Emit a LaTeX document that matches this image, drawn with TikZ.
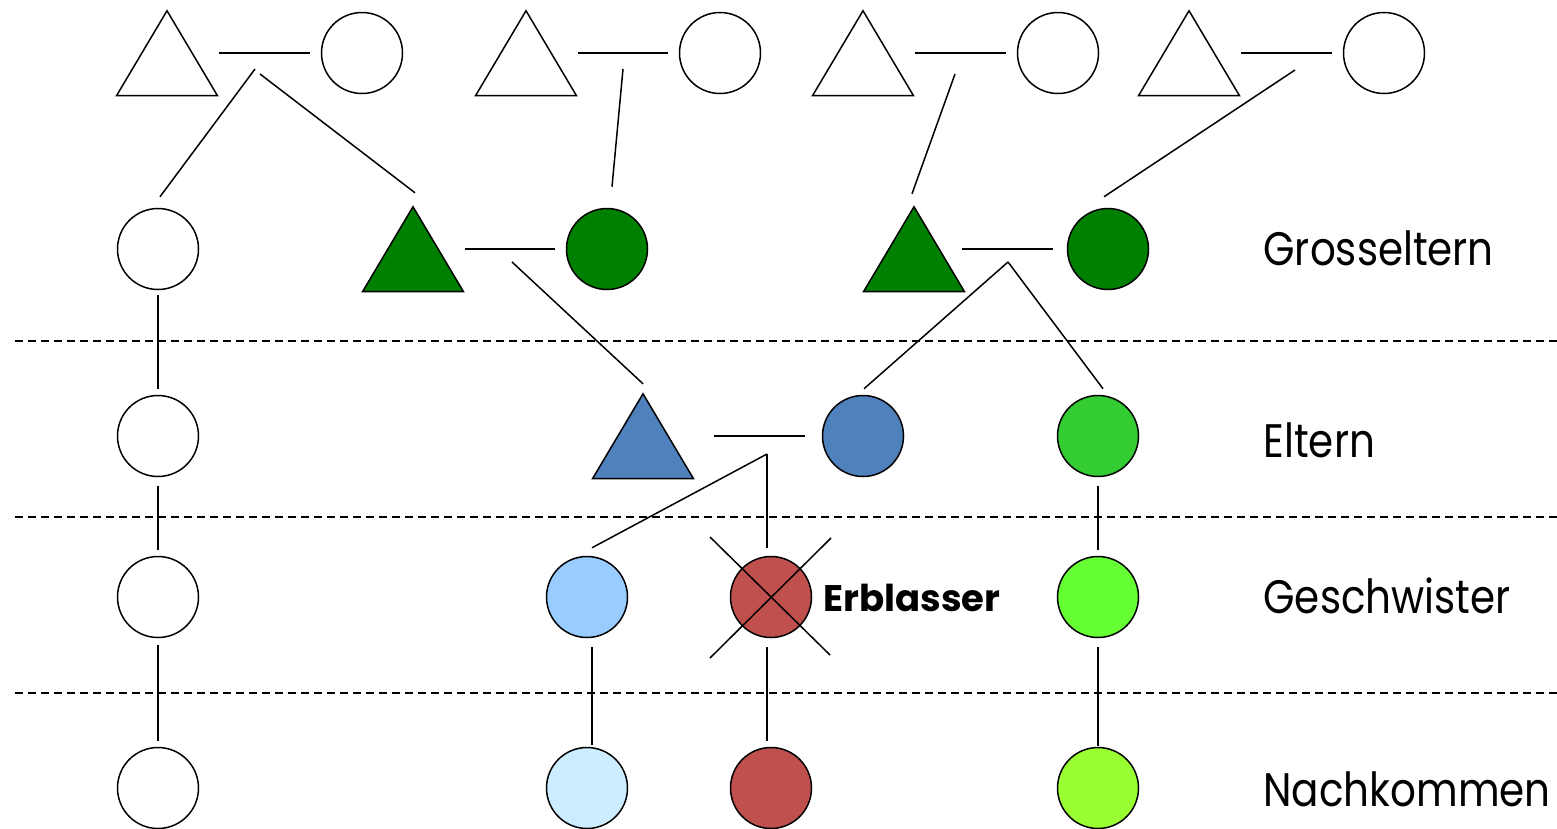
\documentclass[tikz,border=0pt]{standalone}
\usepackage{fontspec}
\setmainfont{Poppins}
\newfontfamily\stufenfont{Poppins}[FakeStretch=0.86]
\usetikzlibrary{shapes.geometric,calc}

\definecolor{dgruen}{HTML}{008000}
\definecolor{blau}{HTML}{4F81BD}
\definecolor{hgruen}{HTML}{33CC33}
\definecolor{hblau}{HTML}{99CCFF}
\definecolor{rot}{HTML}{C0504D}
\definecolor{pblau}{HTML}{CCECFF}
\definecolor{ngruen}{HTML}{66FF33}
\definecolor{ggruen}{HTML}{99FF33}

\tikzset{
  person/.style={draw=black, line width=1.5pt, inner sep=0pt},
  frau/.style={person, circle, minimum size=81pt},
  mann/.style={person, isosceles triangle, isosceles triangle stretches,
    shape border rotate=90, minimum width=101pt, minimum height=85pt,
    yshift=-14pt},
  linie/.style={line width=1.5pt},
  ehe/.style={linie, shorten <=52pt, shorten >=52pt},
  grenze/.style={line width=1.4pt, dash pattern=on 8pt off 5pt},
  stufe/.style={anchor=base west, font=\stufenfont\fontsize{47}{56}\selectfont},
}

\begin{document}
\begin{tikzpicture}[x=1pt,y=-1pt]
\useasboundingbox (0,0) rectangle (1557,828);

% Trennlinien
\foreach \y in {341,517,693}
  \draw[grenze] (15,\y) -- (1557,\y);

% Urgrosseltern
\node[mann] (ugv1) at (167,53) {};
\node[frau] (ugm1) at (362,53) {};
\node[mann] (ugv2) at (526,53) {};
\node[frau] (ugm2) at (720,53) {};
\node[mann] (ugv3) at (863,53) {};
\node[frau] (ugm3) at (1058,53) {};
\node[mann] (ugv4) at (1189,53) {};
\node[frau] (ugm4) at (1384,53) {};

% Grosseltern
\node[frau] (gm0) at (158,249) {};
\node[mann, fill=dgruen] (gv1) at (413,249) {};
\node[frau, fill=dgruen] (gm1) at (607,249) {};
\node[mann, fill=dgruen] (gv2) at (914,249) {};
\node[frau, fill=dgruen] (gm2) at (1108,249) {};

% Eltern
\node[frau] (m0) at (158,436) {};
\node[mann, fill=blau] (vater) at (643,436) {};
\node[frau, fill=blau] (mutter) at (863,436) {};
\node[frau, fill=hgruen] (tante) at (1098,436) {};

% Geschwister
\node[frau] (c0) at (158,597) {};
\node[frau, fill=hblau] (gs) at (587,597) {};
\node[frau, fill=rot] (erb) at (771,597) {};
\node[frau, fill=ngruen] (c2) at (1098,597) {};

% Nachkommen
\node[frau] (nk0) at (158,788) {};
\node[frau, fill=pblau] (nk1) at (587,788) {};
\node[frau, fill=rot] (nk2) at (771,788) {};
\node[frau, fill=ggruen] (nk3) at (1098,788) {};

% Ehen
\draw[ehe] (ugv1.center |- ugm1.center) -- (ugm1.center);
\draw[ehe] (ugv2.center |- ugm2.center) -- (ugm2.center);
\draw[ehe] (ugv3.center |- ugm3.center) -- (ugm3.center);
\draw[ehe] (ugv4.center |- ugm4.center) -- (ugm4.center);
\draw[ehe] (gv1.center |- gm1.center) -- (gm1.center);
\draw[ehe, shorten <=48pt, shorten >=55pt] (gv2.center |- gm2.center) -- (gm2.center);
\draw[ehe, shorten <=71pt, shorten >=58pt] (vater.center |- mutter.center) -- (mutter.center);

% Abstammung
\coordinate (k1a) at (255,69);
\coordinate (k1b) at (260,74);
\coordinate (k2) at (623,69);
\coordinate (k3) at (955,74);
\coordinate (k4) at (1295,70);
\coordinate (k5) at (512,262);
\coordinate (k6) at (1008,262);
\coordinate (k7) at (767,454);
\draw[linie] (k1a) -- ($(gm0.north)+(2,-11)$);
\draw[linie] (k1b) -- ($(gv1.north)+(2,-12)$);
\draw[linie] (k2) -- ($(gm1.north)+(5,-21)$);
\draw[linie] (k3) -- ($(gv2.north)+(-2,-11)$);
\draw[linie] (k4) -- ($(gm2.north)+(-4,-11)$);
\draw[linie] (k5) -- ($(vater.north)+(0,-8)$);
\draw[linie] (k6) -- ($(mutter.north)+(1,-6)$);
\draw[linie] (k6) -- ($(tante.north)+(5,-6)$);
\draw[linie] (k7) -- ($(gs.north)+(5,-8)$);
\draw[linie, shorten >=8pt] (k7) -- (k7 |- erb.north);

\draw[linie, shorten <=5pt, shorten >=6pt] (gm0) -- (m0);
\draw[linie, shorten <=9pt, shorten >=6pt] (m0) -- (c0);
\draw[linie, shorten <=7pt, shorten >=6pt] (c0) -- (nk0);
\draw[linie, shorten <=9pt, shorten >=6pt] (tante) -- (c2);
\draw[linie, shorten <=9pt, shorten >=1pt] (c2) -- (nk3);
\draw[linie] ($(gs.south)+(5,9)$) -- ($(nk1.north)+(5,-2)$);
\draw[linie] ($(erb.south)+(-4,9)$) -- ($(nk2.north)+(-4,-6)$);

% Erblasser
\draw[linie] ($(erb)+(-61,-60)$) -- ($(erb)+(59,58)$);
\draw[linie] ($(erb)+(60,-59)$) -- ($(erb)+(-61,61)$);
\node[anchor=base west, font=\bfseries\fontsize{37}{40}\selectfont] (erbl) at (820,611) {Erblasser};

% Stufen
\node[stufe] (s1) at (1260,265) {Grosseltern};
\node[stufe] (s2) at (1260,457) {Eltern};
\node[stufe] (s3) at (1260,613) {Geschwister};
\node[stufe] (s4) at (1260,806) {Nachkommen};
\end{tikzpicture}
\end{document}
